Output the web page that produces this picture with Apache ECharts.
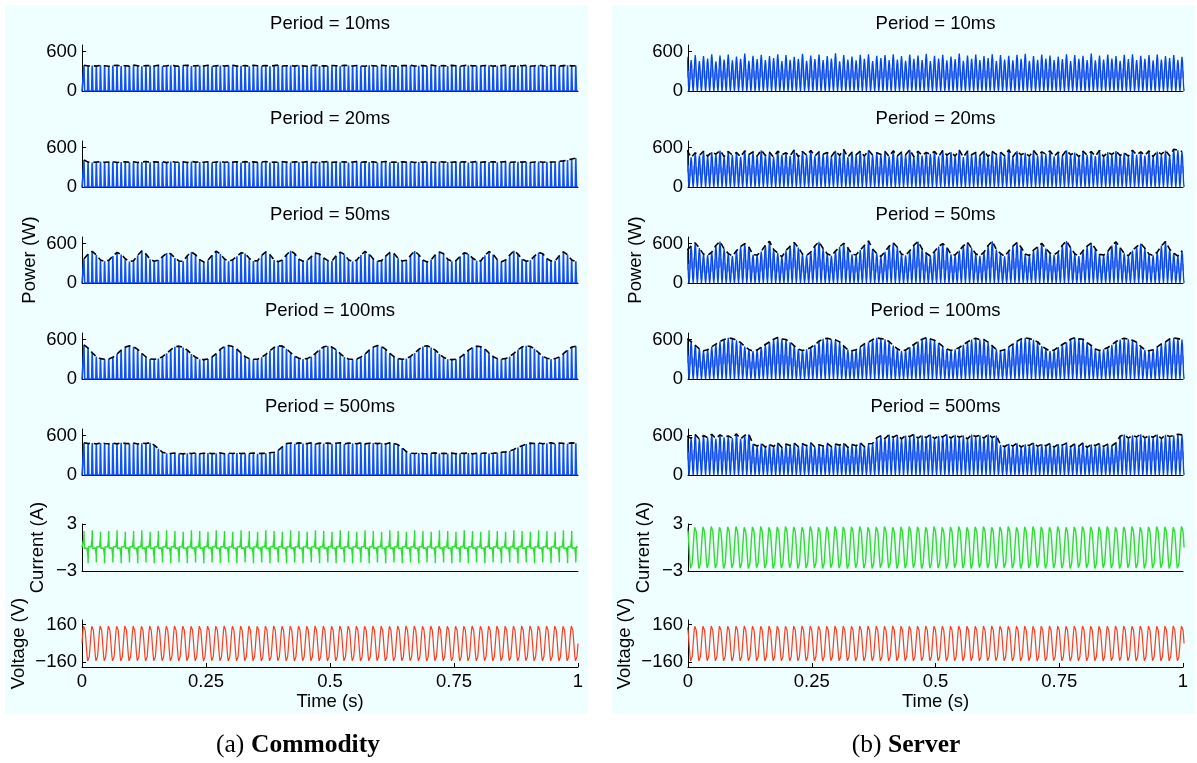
<!DOCTYPE html>
<html><head><meta charset="utf-8">
<script src="https://cdn.jsdelivr.net/npm/echarts@6/dist/echarts.min.js"></script>
<style>html,body{margin:0;padding:0;background:#fff}#c{width:1197px;height:763px}</style>
</head><body><div id="c"></div>
<script>
// ---------------- DATA ----------------
const periodLabels = ['Period = 10ms','Period = 20ms','Period = 50ms','Period = 100ms','Period = 500ms'];
const timeTicks = [0, 0.25, 0.5, 0.75, 1];
const timeTickLabels = ['0', '0.25', '0.5', '0.75', '1'];
const powerTicks = [0, 600];
const currentTicks = [-3, 3];
const voltageTicks = [-160, 160];
const panelCaptions = [['(a)', 'Commodity'], ['(b)', 'Server']];
const HALF = 1 / 120;            // one half-cycle of the 60 Hz mains (s)
const commStart = 0;             // first zero crossing, commodity trace (s)
const servStart = -0.0062;       // first zero crossing, server trace (s)

// waveform shape of one half-cycle: [fraction of half-cycle, fraction of peak]
const commPowerShape = [[0,0],[0.34,0],[0.43,0.85],[0.48,1],[0.55,0.5],[0.64,0]];
const commCurrentShape = [[0,0],[0.2,0.02],[0.38,0.01],[0.44,0.55],[0.48,1],[0.53,0.3],[0.58,-0.06],[0.68,0.02],[0.84,-0.02]];
const sineHalf = [[0,0],[0.125,0.383],[0.25,0.707],[0.375,0.924],[0.5,1],[0.625,0.924],[0.75,0.707],[0.875,0.383]];
const servPowerShape = [[0,0],[0.125,0.146],[0.25,0.5],[0.375,0.854],[0.5,1],[0.625,0.854],[0.75,0.5],[0.875,0.146]];
const servRippleShape = [[0.05,0.28],[0.2,0.62],[0.35,0.36],[0.5,0.72],[0.65,0.4],[0.8,0.58],[0.95,0.3]];

// ---- Commodity: peak power of each half-cycle pulse (W) ----
const commP10 = [
392,380,386,378,390,384,376,388,392,381,
385,379,394,383,377,389,386,380,391,378,
384,393,382,376,388,390,379,385,387,381,
392,377,384,389,380,386,393,379,383,388,
376,391,385,382,389,378,386,394,380,384,
387,379,391,383,377,388,392,381,385,380,
389,384,378,393,386,380,388,382,376,390,
385,379,392,384,387,381,377,389,386,391,
380,383,388,378,394,385,381,387,379,390,
384,376,389,392,382,385,380,388,391,378,
384,386,393,381,379,388,385,390,377,384,
392,383,380,387,389,378,386,391,382,385];
const commP20 = [
412,378,372,380,384,376,381,386,374,379,
383,377,385,372,380,388,375,382,379,384,
371,386,380,377,383,374,389,378,381,376,
385,373,380,387,376,382,378,384,372,386,
379,383,375,381,388,374,380,377,385,379,
372,384,381,376,386,379,374,383,380,387,
375,381,378,385,373,380,386,377,382,379,
384,372,380,388,376,381,375,383,379,386,
374,382,378,385,380,373,387,379,381,376,
383,378,385,372,380,387,376,382,379,384,
377,381,386,374,380,383,378,385,372,381,
388,376,382,379,384,391,398,410,425,438];
const commP50 = [
370,440,480,425,350,330, 345,410,465,435,370,325, 340,420,490,440,360,330,
350,400,455,445,380,335, 330,415,470,430,355,320, 345,425,485,440,365,330,
355,405,460,450,375,335, 340,420,475,430,350,325, 350,430,490,445,360,330,
345,400,455,440,380,340, 335,415,470,435,355,325, 350,425,480,440,365,330,
340,410,465,450,375,335, 345,420,485,430,350,320, 355,430,470,445,360,330,
340,405,460,440,380,340, 335,420,480,435,355,325, 350,425,490,440,365,330,
345,410,465,445,370,335, 340,415,475,430,350,330];
const commP100 = [
520,470,400,340,310,300,305,330,380,440,485,505,
490,450,390,335,305,300,310,340,390,445,490,500,
480,440,380,330,300,295,305,335,385,450,495,510,
495,455,395,340,310,300,300,330,375,430,480,505,
500,460,400,345,315,305,310,340,390,445,490,500,
485,445,385,335,305,300,305,335,380,440,485,510,
495,450,390,340,310,300,310,345,395,450,495,505,
480,440,380,330,300,295,300,330,380,435,480,500,
490,455,395,340,310,305,310,340,390,445,490,505,
495,460,400,345,315,305,310,335,385,440,485,500];
const commP500 = [
490,478,485,472,488,480,476,486,474,489,
481,477,487,473,484,479,492,455,400,345,
330,326,334,328,322,331,327,335,324,330,
333,325,329,336,323,331,328,334,326,330,
327,335,324,332,329,338,345,375,430,478,
486,474,489,480,477,491,473,485,479,488,
475,484,490,472,486,481,476,489,474,483,
487,478,485,473,490,482,460,410,355,332,
326,334,328,323,331,336,325,330,327,333,
324,331,329,335,322,330,328,334,326,331,
338,345,352,365,390,420,445,470,485,479,
488,476,484,490,473,487,481,478,489,484];
const commCurrentPeaks = [
2.1,-2.0,2.2,-1.9,2.0,-2.0,2.1,-1.9,2.2,-2.0,
2.0,-1.9,2.1,-2.0,2.2,-1.9,2.0,-2.0,2.1,-1.9,
2.2,-2.0,2.1,-1.9,2.0,-2.0,2.2,-1.9,2.1,-2.0,
2.0,-1.9,2.2,-2.0,2.1,-1.9,2.0,-2.0,2.2,-1.9,
2.1,-2.0,2.0,-1.9,2.2,-2.0,2.1,-1.9,2.0,-2.0,
2.2,-1.9,2.1,-2.0,2.0,-1.9,2.2,-2.0,2.1,-1.9,
2.0,-2.0,2.2,-1.9,2.1,-2.0,2.0,-1.9,2.2,-2.0,
2.1,-1.9,2.0,-2.0,2.2,-1.9,2.1,-2.0,2.0,-1.9,
2.2,-2.0,2.1,-1.9,2.0,-2.0,2.2,-1.9,2.1,-2.0,
2.0,-1.9,2.2,-2.0,2.1,-1.9,2.0,-2.0,2.2,-1.9,
2.1,-2.0,2.0,-1.9,2.2,-2.0,2.1,-1.9,2.0,-2.0,
2.2,-1.9,2.1,-2.0,2.0,-1.9,2.2,-2.0,2.1,-1.9];
const commVoltPeaks = [
160,-161,159,-160,161,-159,160,-160,159,-161,
161,-160,160,-159,159,-161,160,-160,161,-159,
159,-160,161,-161,160,-159,159,-160,160,-161,
160,-159,160,-160,161,-161,159,-160,160,-159,
161,-160,159,-161,160,-160,161,-159,159,-160,
160,-161,160,-159,159,-160,161,-160,160,-161,
159,-160,161,-160,160,-159,160,-161,159,-160,
161,-159,160,-160,159,-161,160,-160,161,-159,
160,-160,159,-161,161,-159,160,-160,159,-160,
159,-161,160,-160,161,-160,159,-159,160,-161,
161,-160,160,-159,159,-161,160,-160,161,-160,
160,-159,161,-160,160,-161,159,-160,160,-160];

// ---- Server: peak power of each half-cycle pulse (W) ----
const servP10 = [
520,470,545,455,530,495,560,450,540,480,
555,465,525,490,570,460,535,485,550,470,
530,500,560,455,545,475,520,490,565,460,
540,485,555,470,530,495,575,450,545,480,
525,465,550,490,560,455,535,500,545,470,
560,480,530,460,555,490,540,470,565,455,
535,495,550,465,525,485,570,460,540,490,
555,470,530,500,560,455,545,480,535,465,
550,490,565,460,530,475,555,495,540,470,
525,485,560,455,545,490,535,470,570,465,
540,480,555,495,530,460,550,485,560,470,
535,490,545,465,555,480,530,500,545,475,520];
const servP20 = [
560,450,520,480,545,470,530,500,555,465,
540,485,525,460,550,495,535,470,560,480,
530,455,545,490,520,475,565,460,540,485,
555,470,535,500,525,465,550,480,570,455,
530,490,545,470,560,485,520,495,540,465,
550,475,530,490,565,460,545,480,525,500,
540,465,555,485,530,470,560,455,545,490,
525,480,550,465,540,495,530,475,565,460,
545,490,520,470,555,480,535,500,550,465,
530,475,560,490,525,460,545,485,540,470,
555,465,530,495,545,480,520,470,560,490,
535,480,550,465,540,500,555,475,575,560,540];
const servP50 = [
500,560,610,530,440,420, 470,570,630,520,450,410, 490,555,600,545,430,425,
480,575,635,510,455,400, 495,560,615,540,440,420, 470,565,625,525,445,415,
485,550,605,535,435,430, 500,570,640,515,450,405, 475,560,610,545,440,420,
490,575,630,520,455,410, 480,555,600,540,435,425, 495,565,620,530,445,415,
470,570,635,510,450,405, 485,560,615,545,440,420, 500,550,605,525,455,430,
475,575,640,535,445,410, 490,560,610,520,435,425, 480,570,625,540,450,415,
495,555,600,530,440,420, 470,565,630,515,455,410, 490];
const servP100 = [
610,570,510,460,430,445,490,530,570,600,625,615,
590,555,495,450,425,440,485,525,565,605,630,610,
600,560,505,455,435,450,480,520,575,610,620,605,
595,565,500,445,430,445,490,535,560,600,625,615,
605,570,510,460,425,440,485,525,570,605,630,610,
590,550,495,455,435,450,480,520,565,600,620,600,
600,560,505,450,430,445,490,530,575,610,625,615,
595,565,500,460,425,440,485,525,560,605,630,610,
605,555,510,455,435,450,480,520,570,600,620,605,
590,560,495,445,430,445,490,535,565,610,625,615,600];
const servP500 = [
590,560,615,545,600,570,620,555,610,575,
595,560,625,550,605,620,470,440,480,425,
465,435,490,420,470,450,485,430,475,445,
490,425,460,440,480,430,470,455,485,420,
465,445,490,430,475,480,565,600,555,615,
575,610,550,600,585,620,560,605,570,615,
555,595,580,620,560,610,575,600,550,615,
585,605,560,620,570,600,460,430,475,440,
485,425,465,450,490,435,470,445,480,425,
470,455,485,430,475,440,490,420,465,450,
480,435,470,445,490,590,615,560,605,580,
620,565,600,575,615,555,610,585,600,620,610];
const servCurrentPeaks = [
2.9,-2.85,2.8,-2.9,2.85,-2.8,2.9,-2.85,2.8,-2.9,
2.85,-2.8,2.9,-2.85,2.8,-2.9,2.85,-2.8,2.9,-2.85,
2.8,-2.9,2.85,-2.85,2.9,-2.8,2.85,-2.9,2.8,-2.85,
2.9,-2.85,2.8,-2.9,2.85,-2.8,2.9,-2.85,2.85,-2.9,
2.85,-2.8,2.9,-2.85,2.8,-2.9,2.85,-2.8,2.9,-2.85,
2.8,-2.9,2.85,-2.85,2.9,-2.8,2.85,-2.9,2.8,-2.85,
2.9,-2.85,2.8,-2.9,2.85,-2.8,2.9,-2.85,2.8,-2.9,
2.85,-2.8,2.9,-2.85,2.8,-2.9,2.85,-2.8,2.9,-2.85,
2.8,-2.9,2.85,-2.85,2.9,-2.8,2.85,-2.9,2.8,-2.85,
2.9,-2.85,2.8,-2.9,2.85,-2.8,2.9,-2.85,2.85,-2.9,
2.85,-2.8,2.9,-2.85,2.8,-2.9,2.85,-2.8,2.9,-2.85,
2.8,-2.9,2.85,-2.85,2.9,-2.8,2.85,-2.9,2.8,-2.85,2.9];
const servVoltPeaks = [
160,-160,159,-161,160,-159,161,-160,160,-160,
159,-161,160,-160,161,-159,160,-160,159,-161,
161,-160,160,-159,159,-161,160,-160,161,-159,
160,-160,159,-161,160,-159,161,-160,160,-160,
159,-161,160,-160,161,-159,160,-160,159,-161,
161,-160,160,-159,159,-161,160,-160,161,-159,
160,-160,159,-161,160,-159,161,-160,160,-160,
159,-161,160,-160,161,-159,160,-160,159,-161,
161,-160,160,-159,159,-161,160,-160,161,-159,
160,-160,159,-161,160,-159,161,-160,160,-160,
159,-161,160,-160,161,-159,160,-160,159,-161,
161,-160,160,-159,159,-161,160,-160,161,-159,160];

// ---------------- BUILD ----------------
function tile(peaks, shape, start) {
  const pts = [];
  for (let k = 0; k < peaks.length; k++)
    for (const [f, a] of shape) pts.push([start + (k + f) * HALF, peaks[k] * a]);
  pts.push([start + peaks.length * HALF, 0]);
  return pts;
}
function envelope(peaks, start, frac) {
  return peaks.map((p, k) => [start + (k + frac) * HALF, p]);
}

const FONT = 'Liberation Sans';
const TICK_FS = 18.5, TEXT_FS = 18.5;
const panels = [
  { start: commStart, peakFrac: 0.48, powers: [commP10, commP20, commP50, commP100, commP500],
    powerShape: commPowerShape, ripple: false, env: [true, true, true, true, true],
    current: commCurrentPeaks, currentShape: commCurrentShape, volt: commVoltPeaks,
    left: 82, width: 496, blue: '#1150f5' },
  { start: servStart, peakFrac: 0.5, powers: [servP10, servP20, servP50, servP100, servP500],
    powerShape: servPowerShape, ripple: true, env: [false, true, true, true, true],
    current: servCurrentPeaks, currentShape: sineHalf, volt: servVoltPeaks,
    left: 688, width: 495, blue: '#0644ea' }
];
const powerTops = [45, 141, 237, 333, 429];
const titleYs = [24, 119, 215, 311, 407];

const grid = [], xAxis = [], yAxis = [], series = [], graphic = [];
const lbl = (v) => String(v).replace('-', '\u2212');

graphic.push({ type: 'rect', z: -10, shape: { x: 5, y: 5, width: 583, height: 709 }, style: { fill: '#effefe' } });
graphic.push({ type: 'rect', z: -10, shape: { x: 612, y: 5, width: 583, height: 709 }, style: { fill: '#effefe' } });

panels.forEach((P, pi) => {
  const rows = [];
  powerTops.forEach((t, i) => rows.push({ kind: 'power', top: t, h: 46, idx: i }));
  rows.push({ kind: 'current', top: 524, h: 47 });
  rows.push({ kind: 'volt', top: 620, h: 47 });
  const cx = P.left + P.width / 2;
  rows.forEach((r, ri) => {
    const gi = grid.length;
    const last = ri === rows.length - 1;
    grid.push({ left: P.left, width: P.width, top: r.top, height: r.h });
    xAxis.push({
      gridIndex: gi, type: 'value', min: 0, max: 1,
      axisLine: { show: true, onZero: false, lineStyle: { color: '#000', width: 1 } },
      axisTick: { show: last, inside: true, length: 4, customValues: timeTicks, lineStyle: { color: '#000' } },
      axisLabel: { show: last, customValues: timeTicks, margin: 5, color: '#000', fontSize: TICK_FS, fontFamily: FONT,
        formatter: (v) => { const i = timeTicks.indexOf(v); return i >= 0 ? timeTickLabels[i] : ''; } },
      splitLine: { show: false },
      name: last ? 'Time (s)' : '', nameLocation: 'middle', nameGap: 25,
      nameTextStyle: { color: '#000', fontSize: TEXT_FS, fontFamily: FONT }
    });
    let ymin, ymax, ticks, name = '', gap = 0;
    if (r.kind === 'power') { ymin = 0; ymax = 700; ticks = powerTicks; if (r.idx === 2) { name = 'Power (W)'; gap = 43; } }
    else if (r.kind === 'current') { ymin = -3; ymax = 3; ticks = currentTicks; name = 'Current (A)'; gap = 35; }
    else { ymin = -200; ymax = 200; ticks = voltageTicks; name = 'Voltage (V)'; gap = 54; }
    yAxis.push({
      gridIndex: gi, type: 'value', min: ymin, max: ymax,
      axisLine: { show: true, onZero: false, lineStyle: { color: '#000', width: 1 } },
      axisTick: { show: true, inside: true, length: 4, customValues: ticks, lineStyle: { color: '#000' } },
      axisLabel: { customValues: ticks, margin: 5, color: '#000', fontSize: TICK_FS, fontFamily: FONT, formatter: lbl },
      splitLine: { show: false },
      name: name, nameLocation: 'middle', nameGap: gap,
      nameTextStyle: { color: '#000', fontSize: TEXT_FS, fontFamily: FONT }
    });
    const base = { type: 'line', xAxisIndex: gi, yAxisIndex: gi, showSymbol: false, silent: true, animation: false };
    if (r.kind === 'power') {
      const peaks = P.powers[r.idx];
      graphic.push({ type: 'text', x: cx, y: titleYs[r.idx],
        style: { text: periodLabels[r.idx], fontSize: TEXT_FS, fontFamily: FONT, fill: '#000',
          align: 'center', verticalAlign: 'middle', textAlign: 'center', textVerticalAlign: 'middle' } });
      if (P.ripple) series.push(Object.assign({}, base, { z: 1, data: tile(peaks, servRippleShape, P.start),
        lineStyle: { color: '#7aa8ff', width: 1 } }));
      series.push(Object.assign({}, base, { z: 2, data: tile(peaks, P.powerShape, P.start),
        lineStyle: { color: P.blue, width: P.ripple ? 1.3 : 1.6 } }));
      if (P.env[r.idx]) series.push(Object.assign({}, base, { z: 3, data: envelope(peaks, P.start, P.peakFrac),
        lineStyle: { color: '#000', width: 1.6, type: [6, 4] } }));
    } else if (r.kind === 'current') {
      series.push(Object.assign({}, base, { z: 2, data: tile(P.current, P.currentShape, P.start),
        lineStyle: { color: '#2fdc2f', width: 1.4 } }));
    } else {
      series.push(Object.assign({}, base, { z: 2, data: tile(P.volt, sineHalf, P.start),
        lineStyle: { color: '#ff3b1f', width: 1.2 } }));
    }
  });
  const cap = panelCaptions[pi];
  graphic.push({ type: 'text', x: pi === 0 ? 298 : 906, y: 745,
    style: { text: '{n|' + cap[0] + '}  {b|' + cap[1] + '}', align: 'center', verticalAlign: 'middle',
      textAlign: 'center', textVerticalAlign: 'middle', fill: '#000',
      rich: { n: { fontSize: 25.5, fontFamily: 'Liberation Serif', fill: '#000' },
              b: { fontSize: 25.5, fontFamily: 'Liberation Serif', fontWeight: 'bold', fill: '#000' } } } });
});

const chart = echarts.init(document.getElementById('c'), null, { renderer: 'canvas' });
chart.setOption({ backgroundColor: '#fff', animation: false, grid, xAxis, yAxis, series, graphic });
</script></body></html>
